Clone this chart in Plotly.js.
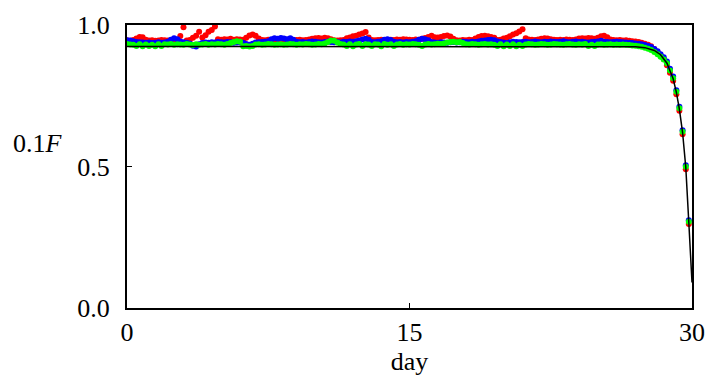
<!DOCTYPE html>
<html>
<head>
<meta charset="utf-8">
<script src="https://cdn.plot.ly/plotly-3.0.1.min.js"></script>
<style>html,body{margin:0;padding:0;background:#fff;}#chart{width:710px;height:377px;}</style>
</head>
<body>
<div id="chart"></div>
<script>
// sample times (days), every 4 hours
const days = [
0,0.17,0.33,0.5,0.67,0.83, 1,1.17,1.33,1.5,1.67,1.83, 2,2.17,2.33,2.5,2.67,2.83,
3,3.17,3.33,3.5,3.67,3.83, 4,4.17,4.33,4.5,4.67,4.83, 5,5.17,5.33,5.5,5.67,5.83,
6,6.17,6.33,6.5,6.67,6.83, 7,7.17,7.33,7.5,7.67,7.83, 8,8.17,8.33,8.5,8.67,8.83,
9,9.17,9.33,9.5,9.67,9.83, 10,10.17,10.33,10.5,10.67,10.83, 11,11.17,11.33,11.5,11.67,11.83,
12,12.17,12.33,12.5,12.67,12.83, 13,13.17,13.33,13.5,13.67,13.83, 14,14.17,14.33,14.5,14.67,14.83,
15,15.17,15.33,15.5,15.67,15.83, 16,16.17,16.33,16.5,16.67,16.83, 17,17.17,17.33,17.5,17.67,17.83,
18,18.17,18.33,18.5,18.67,18.83, 19,19.17,19.33,19.5,19.67,19.83, 20,20.17,20.33,20.5,20.67,20.83,
21,21.17,21.33,21.5,21.67,21.83, 22,22.17,22.33,22.5,22.67,22.83, 23,23.17,23.33,23.5,23.67,23.83,
24,24.17,24.33,24.5,24.67,24.83, 25,25.17,25.33,25.5,25.67,25.83, 26,26.17,26.33,26.5,26.67,26.83,
27,27.17,27.33,27.5,27.67,27.83, 28,28.17,28.33,28.5,28.67,28.83, 29,29.17,29.33,29.5,29.67,29.83
];

const redF = [
0.946,0.944,0.947,0.952,0.958,0.957, 0.948,0.945,0.946,0.944,0.945,0.947, 0.946,0.945,0.944,0.946,0.947,0.961,
0.992,0.945,0.947,0.955,0.962,0.976, 0.956,0.964,0.976,0.982,0.995,0.950, 0.948,0.950,0.949,0.951,0.948,0.950,
0.949,0.948,0.955,0.963,0.966,0.962, 0.952,0.947,0.946,0.948,0.947,0.946, 0.948,0.947,0.946,0.948,0.947,0.946,
0.947,0.948,0.946,0.947,0.949,0.951, 0.953,0.954,0.952,0.955,0.953,0.950, 0.946,0.945,0.946,0.947,0.953,0.956,
0.960,0.962,0.966,0.970,0.975,0.956, 0.947,0.946,0.947,0.948,0.946,0.947, 0.948,0.947,0.949,0.948,0.950,0.949,
0.948,0.947,0.949,0.948,0.951,0.954, 0.958,0.962,0.957,0.956,0.958,0.961, 0.963,0.959,0.951,0.946,0.945,0.947,
0.946,0.948,0.947,0.952,0.958,0.961, 0.962,0.960,0.958,0.955,0.947,0.948, 0.952,0.955,0.960,0.966,0.971,0.977,
0.985,0.953,0.949,0.948,0.947,0.949, 0.951,0.953,0.952,0.950,0.948,0.947, 0.948,0.947,0.949,0.948,0.947,0.949,
0.952,0.953,0.952,0.954,0.953,0.951, 0.955,0.960,0.962,0.957,0.949,0.947, 0.946,0.947,0.945,0.946,0.944,0.943,
0.942,0.940,0.937,0.934,0.930,0.925, 0.915,0.905,0.893,0.879,0.858,0.831, 0.803,0.755,0.697,0.614,0.490,0.297
];

const blueF = [
0.946,0.945,0.943,0.940,0.939,0.938, 0.937,0.938,0.936,0.937,0.939,0.937, 0.938,0.941,0.948,0.953,0.950,0.942,
0.939,0.937,0.935,0.927,0.924,0.932, 0.936,0.938,0.937,0.939,0.938,0.940, 0.939,0.938,0.940,0.939,0.937,0.938,
0.938,0.937,0.933,0.930,0.934,0.938, 0.939,0.940,0.941,0.943,0.950,0.953, 0.951,0.954,0.952,0.950,0.953,0.948,
0.941,0.939,0.940,0.938,0.940,0.942, 0.941,0.939,0.938,0.940,0.942,0.940, 0.939,0.940,0.938,0.941,0.940,0.942,
0.941,0.943,0.945,0.949,0.951,0.948, 0.940,0.939,0.941,0.943,0.948,0.950, 0.947,0.941,0.939,0.940,0.938,0.940,
0.939,0.941,0.943,0.948,0.951,0.950, 0.946,0.940,0.938,0.937,0.939,0.938, 0.937,0.939,0.940,0.938,0.939,0.941,
0.940,0.939,0.941,0.940,0.942,0.944, 0.945,0.947,0.948,0.946,0.942,0.940, 0.938,0.936,0.939,0.941,0.940,0.939,
0.940,0.941,0.939,0.940,0.942,0.940, 0.939,0.941,0.940,0.942,0.941,0.940, 0.941,0.943,0.940,0.939,0.941,0.942,
0.940,0.941,0.939,0.938,0.940,0.941, 0.942,0.944,0.941,0.940,0.939,0.940, 0.941,0.940,0.939,0.938,0.937,0.936,
0.935,0.934,0.932,0.929,0.926,0.922, 0.915,0.907,0.897,0.886,0.871,0.845, 0.818,0.769,0.711,0.628,0.504,0.310
];

const greenF = [
0.933,0.931,0.930,0.926,0.932,0.925, 0.931,0.926,0.930,0.925,0.932,0.926, 0.932,0.931,0.933,0.930,0.932,0.931,
0.930,0.933,0.931,0.929,0.932,0.930, 0.931,0.933,0.930,0.932,0.931,0.933, 0.932,0.930,0.933,0.936,0.940,0.943,
0.941,0.925,0.926,0.924,0.926,0.931, 0.932,0.930,0.931,0.933,0.932,0.930, 0.931,0.932,0.930,0.931,0.933,0.932,
0.930,0.932,0.931,0.933,0.932,0.930, 0.931,0.933,0.932,0.935,0.940,0.945, 0.944,0.938,0.933,0.931,0.926,0.932,
0.925,0.931,0.933,0.926,0.932,0.931, 0.926,0.932,0.931,0.925,0.933,0.930, 0.932,0.926,0.931,0.933,0.930,0.932,
0.931,0.933,0.932,0.930,0.926,0.931, 0.933,0.931,0.932,0.934,0.933,0.935, 0.938,0.940,0.941,0.939,0.940,0.936,
0.932,0.931,0.933,0.932,0.930,0.932, 0.933,0.931,0.932,0.930,0.926,0.932, 0.925,0.931,0.926,0.932,0.925,0.930,
0.926,0.931,0.933,0.932,0.930,0.931, 0.933,0.932,0.930,0.931,0.933,0.932, 0.931,0.930,0.932,0.933,0.931,0.930,
0.932,0.931,0.933,0.926,0.930,0.926, 0.931,0.932,0.930,0.931,0.932,0.930, 0.931,0.930,0.931,0.930,0.929,0.928,
0.927,0.925,0.923,0.920,0.916,0.912, 0.905,0.897,0.888,0.878,0.865,0.839, 0.812,0.764,0.706,0.623,0.499,0.305
];

// fitted model curve
const modelDays = [0,5,10,15,20,25,26,26.5,27,27.5,28,28.33,28.67,28.83,29,29.17,29.33,29.5,29.67,29.83,30];
const modelF = [0.924,0.924,0.924,0.924,0.924,0.924,0.924,0.924,0.923,0.920,0.910,0.895,0.865,0.838,0.810,0.762,0.703,0.620,0.497,0.303,0.090];

const xTicks = [0,15,30];
const xTickText = ['0','15','30'];
const yTicks = [0,0.5,1];
const yTickText = ['0.0','0.5','1.0'];

const FONT = 'Liberation Serif, Times New Roman, serif';

function dots(y, color) {
  return {x: days, y: y, type: 'scatter', mode: 'markers',
          marker: {color: color, size: 6, line: {width: 0}}, hoverinfo: 'skip', showlegend: false};
}

const traces = [
  dots(redF, '#ff0000'),
  dots(blueF, '#0000ff'),
  dots(greenF, '#00ff00'),
  {x: modelDays, y: modelF, type: 'scatter', mode: 'lines',
   line: {color: '#000000', width: 1.5}, hoverinfo: 'skip', showlegend: false}
];

const layout = {
  width: 710, height: 377,
  margin: {l: 127, r: 18, t: 25, b: 69},
  paper_bgcolor: '#ffffff', plot_bgcolor: '#ffffff',
  font: {family: FONT, size: 26, color: '#000'},
  showlegend: false,
  xaxis: {
    range: [0, 30], tickvals: xTicks, ticktext: xTickText,
    showgrid: false, zeroline: false,
    showline: true, linecolor: '#000', linewidth: 2, mirror: true,
    ticks: 'inside', ticklen: 5, tickwidth: 1, tickcolor: '#000',
    tickfont: {family: FONT, size: 26, color: '#000'},
    title: {text: 'day', font: {family: FONT, size: 26, color: '#000'}, standoff: 4}
  },
  yaxis: {
    range: [0, 1], tickvals: yTicks, ticktext: yTickText,
    showgrid: false, zeroline: false,
    showline: true, linecolor: '#000', linewidth: 2, mirror: true,
    ticks: 'inside', ticklen: 5, tickwidth: 1, tickcolor: '#000',
    ticklabelstandoff: 10,
    tickfont: {family: FONT, size: 26, color: '#000'}
  },
  annotations: [{
    text: '0.1<i>F</i>', xref: 'paper', yref: 'paper',
    x: -0.158, y: 0.58, xanchor: 'center', yanchor: 'middle',
    showarrow: false, font: {family: FONT, size: 26, color: '#000'}
  }]
};

Plotly.newPlot('chart', traces, layout, {staticPlot: true, displayModeBar: false});
</script>
</body>
</html>
